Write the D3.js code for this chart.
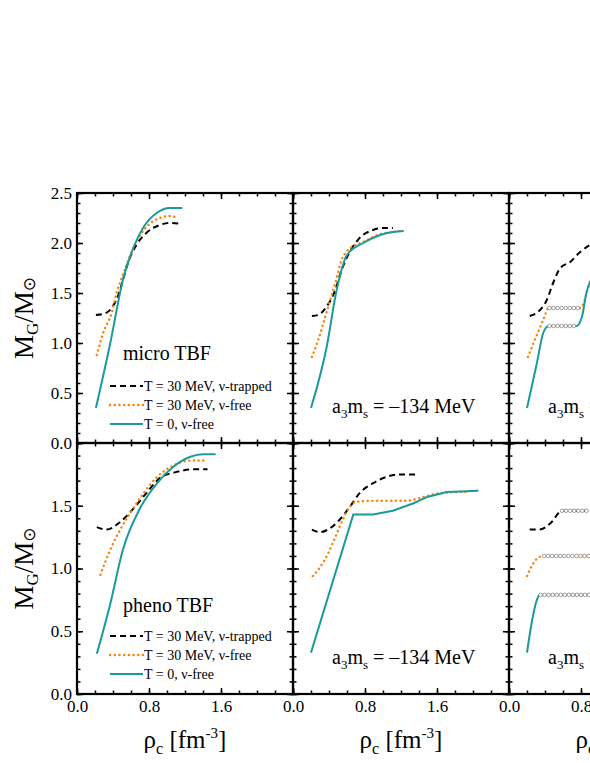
<!DOCTYPE html>
<html><head><meta charset="utf-8">
<script src="https://cdn.jsdelivr.net/npm/d3@7/dist/d3.min.js"></script>
<style>
body{margin:0;background:#fff;}
svg{display:block;}
text{font-family:"Liberation Serif","Times New Roman",serif;fill:#000;}
</style></head>
<body>
<svg id="c" width="590" height="763"></svg>
<script>
// ---------- data (rho_c [fm^-3], M_G/M_sun) ----------
// top row: micro TBF
const microNuc_trapped = [[0.21,1.28],[0.29,1.29],[0.385,1.35],[0.46,1.48],[0.51,1.63],[0.57,1.81],[0.66,1.98],[0.77,2.10],[0.92,2.18],[1.03,2.20],[1.16,2.19]];
const microNuc_free    = [[0.22,0.88],[0.29,1.10],[0.385,1.30],[0.44,1.50],[0.53,1.73],[0.63,1.96],[0.77,2.16],[0.92,2.25],[1.03,2.27],[1.13,2.25]];
const microNuc_cold    = [[0.21,0.35],[0.37,1.00],[0.51,1.63],[0.63,1.96],[0.74,2.16],[0.885,2.30],[1.03,2.35],[1.17,2.35]];

const micro134_trapped = [[0.21,1.27],[0.28,1.28],[0.37,1.36],[0.47,1.53],[0.54,1.73],[0.63,1.91],[0.74,2.05],[0.89,2.13],[1.0,2.15],[1.11,2.15]];
const micro134_free    = [[0.21,0.86],[0.28,1.03],[0.37,1.30],[0.47,1.60],[0.54,1.83],[0.61,1.93],[0.78,2.01],[0.97,2.09],[1.11,2.11],[1.20,2.12]];
const micro134_cold    = [[0.20,0.35],[0.374,0.96],[0.485,1.53],[0.60,1.88],[0.78,2.00],[0.97,2.08],[1.11,2.11],[1.23,2.12]];

const micro222_trapped = [[0.23,1.27],[0.32,1.31],[0.42,1.43],[0.49,1.60],[0.57,1.75],[0.68,1.81],[0.79,1.91],[0.90,1.98],[1.0,2.03]];
const micro222_free    = [[0.21,0.86],[0.30,1.06],[0.38,1.23],[0.44,1.35],[0.79,1.35],[0.83,1.40],[0.88,1.56],[0.95,1.70]];
const micro222_cold    = [[0.20,0.35],[0.31,0.80],[0.38,1.10],[0.44,1.17],[0.75,1.17],[0.81,1.26],[0.86,1.50],[0.92,1.65]];
const micro222_mixed   = [[0.45,0.79,1.35],[0.45,0.75,1.17]];   // [rho start, rho end, M]

// bottom row: pheno TBF
const phenoNuc_trapped = [[0.22,1.33],[0.33,1.31],[0.48,1.37],[0.63,1.48],[0.77,1.60],[0.92,1.72],[1.11,1.77],[1.29,1.79],[1.45,1.79]];
const phenoNuc_free    = [[0.26,0.95],[0.37,1.15],[0.48,1.31],[0.59,1.44],[0.74,1.60],[0.89,1.73],[1.07,1.82],[1.26,1.86],[1.41,1.86]];
const phenoNuc_cold    = [[0.22,0.32],[0.37,0.72],[0.51,1.15],[0.70,1.48],[0.89,1.68],[1.07,1.81],[1.26,1.89],[1.40,1.91],[1.54,1.91]];

const pheno134_trapped = [[0.21,1.31],[0.30,1.29],[0.41,1.32],[0.52,1.39],[0.63,1.49],[0.74,1.60],[0.89,1.68],[1.04,1.73],[1.19,1.75],[1.37,1.75]];
const pheno134_free    = [[0.22,0.94],[0.30,1.01],[0.39,1.12],[0.47,1.25],[0.56,1.40],[0.63,1.49],[0.69,1.53],[0.96,1.54],[1.26,1.54],[1.45,1.57],[1.63,1.60],[1.93,1.61]];
const pheno134_cold    = [[0.20,0.33],[0.67,1.43],[0.89,1.43],[1.11,1.46],[1.34,1.52],[1.49,1.57],[1.71,1.61],[2.06,1.62]];

const pheno222_trapped = [[0.23,1.31],[0.34,1.31],[0.46,1.36],[0.59,1.46],[0.86,1.46],[0.92,1.44]];
const pheno222_free    = [[0.20,0.94],[0.27,1.04],[0.33,1.09],[0.38,1.10],[1.0,1.10]];
const pheno222_cold    = [[0.20,0.33],[0.25,0.56],[0.31,0.75],[0.34,0.79],[1.0,0.79]];
const pheno222_mixed   = [[0.59,0.86,1.46],[0.39,1.0,1.10],[0.35,1.0,0.79]];

const xTickLabels = [0.0, 0.8, 1.6];
const yTickLabelsTop = [0.0, 0.5, 1.0, 1.5, 2.0, 2.5];
const yTickLabelsBottom = [0.0, 0.5, 1.0, 1.5];
const legendLabels = ["T = 30 MeV, \u03bd-trapped", "T = 30 MeV, \u03bd-free", "T = 0, \u03bd-free"];
const rowLabels = ["micro TBF", "pheno TBF"];
const colValues = [null, "\u2013134 MeV", "\u2013222 MeV"];

// ---------- layout ----------
const svg = d3.select("#c");
const colX = [77, 293, 509];
const W = 216;
const rows = [{top:193, h:250, max:2.5, labels:yTickLabelsTop},
              {top:443, h:251, max:2.0, labels:yTickLabelsBottom}];
const TEAL = "#1a9a9a", ORANGE = "#ff8000";
const styles = {
  trapped:{stroke:"#000", width:2, dash:"6,4", cap:"butt"},
  free:{stroke:ORANGE, width:2.4, dash:"0.1,4.6", cap:"round"},
  cold:{stroke:TEAL, width:2, dash:null, cap:"butt"}
};
const panels = [
  [ {trapped:microNuc_trapped, free:microNuc_free, cold:microNuc_cold, mixed:[]},
    {trapped:micro134_trapped, free:micro134_free, cold:micro134_cold, mixed:[]},
    {trapped:micro222_trapped, free:micro222_free, cold:micro222_cold, mixed:micro222_mixed} ],
  [ {trapped:phenoNuc_trapped, free:phenoNuc_free, cold:phenoNuc_cold, mixed:[]},
    {trapped:pheno134_trapped, free:pheno134_free, cold:pheno134_cold, mixed:[], coldLinear:true},
    {trapped:pheno222_trapped, free:pheno222_free, cold:pheno222_cold, mixed:pheno222_mixed} ]
];

const x = d3.scaleLinear().domain([0, 2.4]).range([0, W]);
const xMinor = d3.range(0, 2.41, 0.2);
const xMajor = [0, 0.8, 1.6, 2.4];

rows.forEach((r, ri) => {
  const y = d3.scaleLinear().domain([0, r.max]).range([r.h, 0]);
  const yMinor = d3.range(0, r.max + 0.001, 0.1);
  const yMajor = d3.range(0, r.max + 0.001, 0.5);
  colX.forEach((cx, ci) => {
    const g = svg.append("g").attr("transform", `translate(${cx},${r.top})`);
    const addAxis = (axis, tx, ty) => {
      const a = g.append("g").attr("transform", `translate(${tx},${ty})`).call(axis);
      a.select(".domain").remove();
      a.selectAll("line").attr("stroke", "#000").attr("stroke-width", 1.5);
    };
    addAxis(d3.axisBottom(x).tickValues(xMinor).tickSize(-3.5).tickFormat(""), 0, r.h);
    addAxis(d3.axisBottom(x).tickValues(xMajor).tickSize(-6).tickFormat(""), 0, r.h);
    addAxis(d3.axisTop(x).tickValues(xMinor).tickSize(-3.5).tickFormat(""), 0, 0);
    addAxis(d3.axisTop(x).tickValues(xMajor).tickSize(-6).tickFormat(""), 0, 0);
    addAxis(d3.axisLeft(y).tickValues(yMinor).tickSize(-3.5).tickFormat(""), 0, 0);
    addAxis(d3.axisLeft(y).tickValues(yMajor).tickSize(-6).tickFormat(""), 0, 0);
    addAxis(d3.axisRight(y).tickValues(yMinor).tickSize(-3.5).tickFormat(""), W, 0);
    addAxis(d3.axisRight(y).tickValues(yMajor).tickSize(-6).tickFormat(""), W, 0);

    const p = panels[ri][ci];
    ["trapped", "free", "cold"].forEach(k => {
      const s = styles[k];
      const curve = (k === "cold" && p.coldLinear) ? d3.curveLinear : d3.curveMonotoneX;
      const line = d3.line().x(d => x(d[0])).y(d => y(d[1])).curve(curve);
      g.append("path").datum(p[k]).attr("d", line).attr("fill", "none")
        .attr("stroke", s.stroke).attr("stroke-width", s.width)
        .attr("stroke-dasharray", s.dash).attr("stroke-linecap", s.cap);
    });
    p.mixed.forEach(m => {
      const pts = d3.range(m[0], m[1] + 1e-6, 0.045).map(rv => [rv, m[2]]);
      g.selectAll(null).data(pts).enter().append("circle")
        .attr("cx", d => x(d[0])).attr("cy", d => y(d[1])).attr("r", 1.8)
        .attr("fill", "#fff").attr("stroke", "#8a8a8a").attr("stroke-width", 0.8);
    });

    g.append("rect").attr("width", W).attr("height", r.h)
      .attr("fill", "none").attr("stroke", "#000").attr("stroke-width", 2.2);

    if (ri === 1) {
      const xa = g.append("g").attr("transform", `translate(0,${r.h})`)
        .call(d3.axisBottom(x).tickValues(xTickLabels).tickSize(0).tickPadding(6).tickFormat(d3.format(".1f")));
      xa.select(".domain").remove();
      xa.selectAll("text").attr("font-size", 17).attr("font-family", "Liberation Serif").attr("fill", "#000");
    }
    if (ci === 0) {
      const ya = g.append("g").call(d3.axisLeft(y).tickValues(r.labels).tickSize(0).tickPadding(5).tickFormat(d3.format(".1f")));
      ya.select(".domain").remove();
      ya.selectAll("text").attr("font-size", 17).attr("font-family", "Liberation Serif").attr("fill", "#000");
    }

    if (ci === 0) {
      g.append("text").attr("x", 46).attr("y", ri === 0 ? 167 : 169).attr("font-size", 20).text(rowLabels[ri]);
      const ly = [193, 212, 231];
      ["trapped", "free", "cold"].forEach((k, i) => {
        const s = styles[k];
        g.append("line").attr("x1", 33).attr("x2", 66).attr("y1", ly[i]).attr("y2", ly[i])
          .attr("stroke", s.stroke).attr("stroke-width", s.width)
          .attr("stroke-dasharray", s.dash).attr("stroke-linecap", s.cap);
        g.append("text").attr("x", 67).attr("y", ly[i] + 5).attr("font-size", 14).text(legendLabels[i]);
      });
    } else {
      const t = g.append("text").attr("x", 39).attr("y", r.h - 30).attr("font-size", 20);
      t.append("tspan").text("a");
      t.append("tspan").attr("font-size", 13).attr("dy", 5).text("3");
      t.append("tspan").attr("dy", -5).text("m");
      t.append("tspan").attr("font-size", 13).attr("dy", 5).text("s");
      t.append("tspan").attr("dy", -5).text(" = " + colValues[ci]);
    }

    if (ri === 1) {
      const t = svg.append("text").attr("x", cx + W / 2).attr("y", 748).attr("text-anchor", "middle").attr("font-size", 25);
      t.append("tspan").text("\u03c1");
      t.append("tspan").attr("font-size", 16).attr("dy", 6).text("c");
      t.append("tspan").attr("dy", -6).text(" [fm");
      t.append("tspan").attr("font-size", 15).attr("dy", -10).text("-3");
      t.append("tspan").attr("dy", 10).text("]");
    }
  });
  const cy = r.top + r.h / 2;
  const t = svg.append("text").attr("transform", `translate(33,${cy}) rotate(-90)`)
    .attr("text-anchor", "middle").attr("font-size", 27);
  t.append("tspan").text("M");
  t.append("tspan").attr("font-size", 17).attr("dy", 5).text("G");
  t.append("tspan").attr("dy", -5).text("/M");
  t.append("tspan").attr("font-size", 17).attr("dy", 2).attr("font-family", "DejaVu Sans").text("\u2299");
});
</script>
</body></html>
